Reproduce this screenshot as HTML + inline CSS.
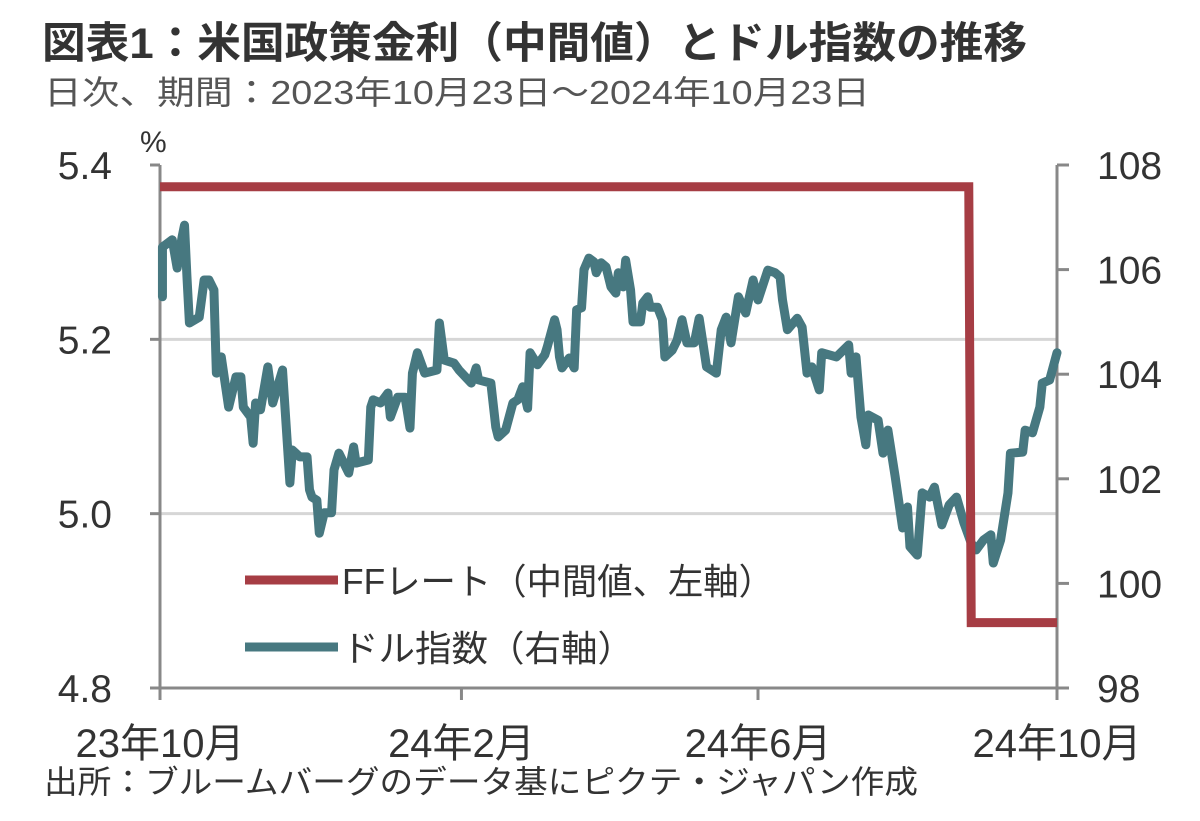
<!DOCTYPE html>
<html><head><meta charset="utf-8">
<style>
html,body{margin:0;padding:0;background:#fff;}
body{width:1200px;height:816px;overflow:hidden;font-family:"Liberation Sans","Noto Sans CJK JP",sans-serif;}
</style></head>
<body>
<svg id="chart" width="1200" height="816" xmlns="http://www.w3.org/2000/svg" font-family="Liberation Sans, Noto Sans CJK JP, sans-serif">
<text x="42" y="58" font-size="43" font-weight="bold" fill="#333" textLength="985" lengthAdjust="spacingAndGlyphs">図表1：米国政策金利（中間値）とドル指数の推移</text>
<text x="44" y="104" font-size="33" fill="#555" textLength="826" lengthAdjust="spacingAndGlyphs">日次、期間：2023年10月23日～2024年10月23日</text>
<text x="140" y="152" font-size="30" fill="#333">%</text>
<g id="grid"></g>
<g id="axes"></g>
<g id="series"></g>
<g>
<line x1="245" y1="580" x2="338" y2="580" stroke="#a63d44" stroke-width="9"/>
<text x="342" y="594" font-size="36" fill="#333" textLength="432" lengthAdjust="spacingAndGlyphs">FFレート（中間値、左軸）</text>
<line x1="245" y1="647" x2="338" y2="647" stroke="#477880" stroke-width="9"/>
<text x="342" y="661" font-size="36" fill="#333" textLength="292" lengthAdjust="spacingAndGlyphs">ドル指数（右軸）</text>
</g>
<text x="44" y="793" font-size="32" fill="#333" textLength="874" lengthAdjust="spacingAndGlyphs">出所：ブルームバーグのデータ基にピクテ・ジャパン作成</text>
</svg>
<script>
const leftTicks=[4.8,5.0,5.2,5.4];
const leftTickLabels=["4.8","5.0","5.2","5.4"];
const rightTicks=[98,100,102,104,106,108];
const xTickDays=[0,123,244,366];
const xTickLabels=["23年10月","24年2月","24年6月","24年10月"];
const ffDays=[0,330,331,366];
const ffValues=[5.375,5.375,4.875,4.875];
const dxyDays=[1,1,5,7,9,10,11,12,16,18,20,22,23,25,28,31,33,34,37,38,39,41,44,46,50,53,54,57,60,61,62,64,65,67,70,71,73,77,79,80,85,86,87,90,93,94,97,100,102,103,105,108,113,114,116,120,122,127,129,130,135,137,138,141,144,146,148,150,151,154,157,158,161,162,163,164,167,169,170,172,173,175,177,178,180,182,184,186,187,189,190,192,193,196,197,199,200,203,205,206,209,211,213,215,218,220,223,225,227,229,231,233,236,239,242,244,248,251,253,254,256,260,262,264,266,269,270,276,281,282,284,286,288,289,293,295,297,300,303,305,306,309,311,314,316,319,322,325,328,331,333,336,339,340,343,346,347,352,353,356,359,360,363,366];
const dxyValues=[105.48,106.43,106.57,106.03,106.62,106.85,105.86,104.98,105.09,105.80,105.80,105.61,104.02,104.33,103.37,103.95,103.95,103.37,103.18,102.68,103.45,103.32,104.14,103.45,104.08,101.92,102.55,102.42,102.42,101.79,101.65,101.59,100.96,101.35,101.35,102.17,102.49,102.11,102.61,102.30,102.36,103.37,103.51,103.45,103.64,103.18,103.56,103.56,102.97,104.02,104.41,104.02,104.08,104.98,104.27,104.21,104.08,103.83,104.12,103.89,103.83,102.99,102.80,102.93,103.45,103.51,103.76,103.35,104.41,104.18,104.37,104.52,105.04,104.85,104.33,104.12,104.31,104.12,105.23,105.27,106.00,106.22,106.15,105.94,106.13,106.05,105.67,105.55,105.94,105.67,106.18,105.61,105.00,105.00,105.36,105.48,105.28,105.28,105.04,104.33,104.46,104.65,105.04,104.60,104.60,105.07,104.14,104.08,104.02,104.85,105.09,104.60,105.48,105.17,105.80,105.42,105.99,105.94,105.86,105.42,104.85,105.07,104.90,104.02,104.14,103.70,104.41,104.33,104.56,104.02,104.33,103.18,102.65,103.22,103.12,102.49,102.93,102.03,101.06,101.46,100.70,100.54,101.73,101.65,101.84,101.12,101.50,101.65,101.16,100.77,100.64,100.83,100.93,100.39,100.83,101.73,102.49,102.51,102.93,102.88,103.37,103.83,103.89,104.41];

const X0=160,X1=1057,TOP=165,BOT=688;
const xS=d=>X0+d*(X1-X0)/366;
const yL=v=>BOT-(v-4.8)*(BOT-TOP)/0.6;
const yR=v=>BOT-(v-98)*(BOT-TOP)/10;
const NS="http://www.w3.org/2000/svg";
function mk(tag,attrs,parent,txt){const e=document.createElementNS(NS,tag);for(const k in attrs)e.setAttribute(k,attrs[k]);if(txt!==undefined)e.textContent=txt;parent.appendChild(e);return e;}
const grid=document.getElementById('grid'),axes=document.getElementById('axes'),series=document.getElementById('series');

leftTicks.forEach((t,i)=>{
  const y=yL(t);
  if(i>0&&i<leftTicks.length-1){
    const g=mk('line',{x1:X0,x2:X1,y1:y,y2:y,stroke:'#d6d6d6','stroke-width':3},grid);
    
    
  }
  const tk=mk('line',{x1:X0-10,x2:X0,y1:y,y2:y,stroke:'#888','stroke-width':3},axes);
  
  
  const lb=mk('text',{x:112,y:y+14,'font-size':39,'text-anchor':'end',fill:'#333'},axes,leftTickLabels[i]);
  
  
});
rightTicks.forEach(t=>{
  const y=yR(t);
  const tk=mk('line',{x1:X1,x2:X1+12,y1:y,y2:y,stroke:'#888','stroke-width':3},axes);
  
  
  const lb=mk('text',{x:1097,y:y+14,'font-size':39,fill:'#333'},axes,String(t));
  
  
});
const la=mk('line',{x1:X0,x2:X0,y1:TOP,y2:BOT,stroke:'#888','stroke-width':3},axes);


const ra=mk('line',{x1:X1,x2:X1,y1:TOP,y2:BOT,stroke:'#888','stroke-width':3},axes);


const ba=mk('line',{x1:X0,x2:X1,y1:BOT,y2:BOT,stroke:'#888','stroke-width':3},axes);


xTickDays.forEach((d,i)=>{
  const x=xS(d);
  const tk=mk('line',{x1:x,x2:x,y1:BOT,y2:BOT+12,stroke:'#888','stroke-width':3},axes);
  
  
  const lb=mk('text',{x:x,y:757,'font-size':40,'text-anchor':'middle',fill:'#333'},axes,xTickLabels[i]);
  
  
});
const dxy=mk('polyline',{points:dxyDays.map((d,i)=>xS(d)+','+yR(dxyValues[i])).join(' '),fill:'none',stroke:'#477880','stroke-width':9,'stroke-linejoin':'round','stroke-linecap':'round'},series);


const ff=mk('polyline',{points:ffDays.map((d,i)=>xS(d)+','+yL(ffValues[i])).join(' '),fill:'none',stroke:'#a63d44','stroke-width':9},series);


</script>
</body></html>
